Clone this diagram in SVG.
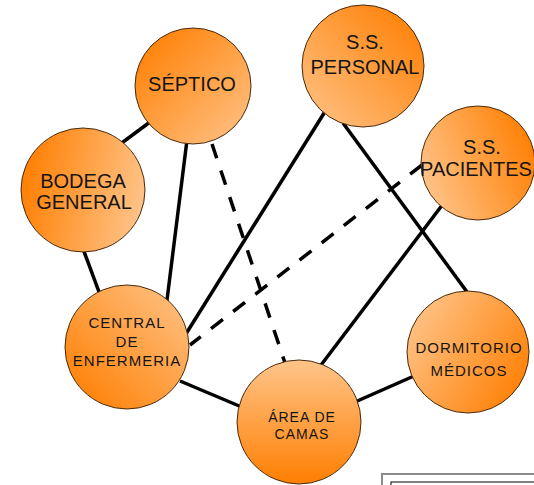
<svg xmlns="http://www.w3.org/2000/svg" width="534" height="485" viewBox="0 0 534 485">
  <style>
    .node { stroke: #4a2a0a; stroke-width: 1; }
    .lbl { font-family: "Liberation Sans", Arial, sans-serif; fill: #151515; text-anchor: middle; }
    .big { font-size: 20px; }
    .small { font-size: 15px; letter-spacing: 1px; }
    .link { stroke: #000; stroke-width: 3.5; fill: none; }
    .dash { stroke-dasharray: 15 13; }
  </style>
  <defs>
    <linearGradient id="gTL" x1="0" y1="0" x2="1" y2="1">
      <stop offset="0.1" stop-color="#ff8208"/><stop offset="1" stop-color="#ffc48a"/>
    </linearGradient>
    <linearGradient id="gTR" x1="1" y1="0" x2="0" y2="1">
      <stop offset="0.1" stop-color="#ff8208"/><stop offset="1" stop-color="#ffc48a"/>
    </linearGradient>
    <linearGradient id="gR" x1="1" y1="0.3" x2="0" y2="0.7">
      <stop offset="0.05" stop-color="#ff8208"/><stop offset="1" stop-color="#ffc48a"/>
    </linearGradient>
    <linearGradient id="gL" x1="0" y1="0.4" x2="1" y2="0.6">
      <stop offset="0.05" stop-color="#ff8208"/><stop offset="1" stop-color="#ffc48a"/>
    </linearGradient>
    <linearGradient id="gBL" x1="0" y1="1" x2="1" y2="0">
      <stop offset="0.1" stop-color="#ff8208"/><stop offset="1" stop-color="#ffc48a"/>
    </linearGradient>
    <linearGradient id="gB" x1="0.5" y1="1" x2="0.5" y2="0">
      <stop offset="0.05" stop-color="#ff8208"/><stop offset="1" stop-color="#ffc48a"/>
    </linearGradient>
    <linearGradient id="gBR" x1="1" y1="0.8" x2="0" y2="0.2">
      <stop offset="0.05" stop-color="#ff8208"/><stop offset="1" stop-color="#ffc48a"/>
    </linearGradient>
  </defs>

  <!-- connectors -->
  <g id="connectors">
    <line class="link" x1="150" y1="122" x2="119" y2="145"/>
    <line class="link" x1="187" y1="140" x2="165" y2="316"/>
    <line class="link dash" x1="212" y1="144" x2="286" y2="366"/>
    <line class="link" x1="82" y1="246" x2="102" y2="300"/>
    <line class="link" x1="326" y1="110" x2="184" y2="337"/>
    <line class="link" x1="343" y1="123" x2="470" y2="296"/>
    <line class="link dash" x1="422" y1="165" x2="190" y2="345"/>
    <line class="link" x1="443" y1="204" x2="315" y2="373"/>
    <line class="link" x1="180" y1="381" x2="244" y2="408"/>
    <line class="link" x1="355" y1="402" x2="414" y2="376"/>
  </g>

  <g id="septico">
    <circle class="node" cx="193" cy="86" r="58" fill="url(#gTL)"/>
    <text class="lbl big" x="192" y="91">SÉPTICO</text>
  </g>
  <g id="ss-personal">
    <circle class="node" cx="363" cy="66" r="61" fill="url(#gTR)"/>
    <text class="lbl big" x="365" y="49">S.S.</text>
    <text class="lbl big" x="365" y="74">PERSONAL</text>
  </g>
  <g id="ss-pacientes">
    <circle class="node" cx="478" cy="163" r="57" fill="url(#gR)"/>
    <text class="lbl big" x="482" y="154">S.S.</text>
    <text class="lbl big" x="476" y="176">PACIENTES</text>
  </g>
  <g id="bodega-general">
    <circle class="node" cx="83" cy="190" r="62" fill="url(#gL)"/>
    <text class="lbl big" x="83" y="188">BODEGA</text>
    <text class="lbl big" x="84" y="209">GENERAL</text>
  </g>
  <g id="central-enfermeria">
    <circle class="node" cx="127" cy="347" r="62" fill="url(#gBL)"/>
    <text class="lbl small" x="127" y="328">CENTRAL</text>
    <text class="lbl small" x="127" y="347">DE</text>
    <text class="lbl small" x="127" y="366">ENFERMERIA</text>
  </g>
  <g id="area-camas">
    <circle class="node" cx="299" cy="422" r="62" fill="url(#gB)"/>
    <text class="lbl" x="302" y="422" style="font-size:14px;letter-spacing:1px">ÁREA DE</text>
    <text class="lbl" x="302" y="439" style="font-size:14px;letter-spacing:1px">CAMAS</text>
  </g>
  <g id="dormitorio-medicos">
    <circle class="node" cx="468" cy="352" r="61" fill="url(#gBR)"/>
    <text class="lbl small" x="469" y="353">DORMITORIO</text>
    <text class="lbl small" x="469" y="376">MÉDICOS</text>
  </g>

  <!-- frame at the lower right -->
  <g id="frame">
    <rect x="382" y="474" width="200" height="40" fill="none" stroke="#8a8a8a" stroke-width="2"/>
    <rect x="391" y="482" width="200" height="40" fill="none" stroke="#000" stroke-width="1"/>
  </g>
</svg>
